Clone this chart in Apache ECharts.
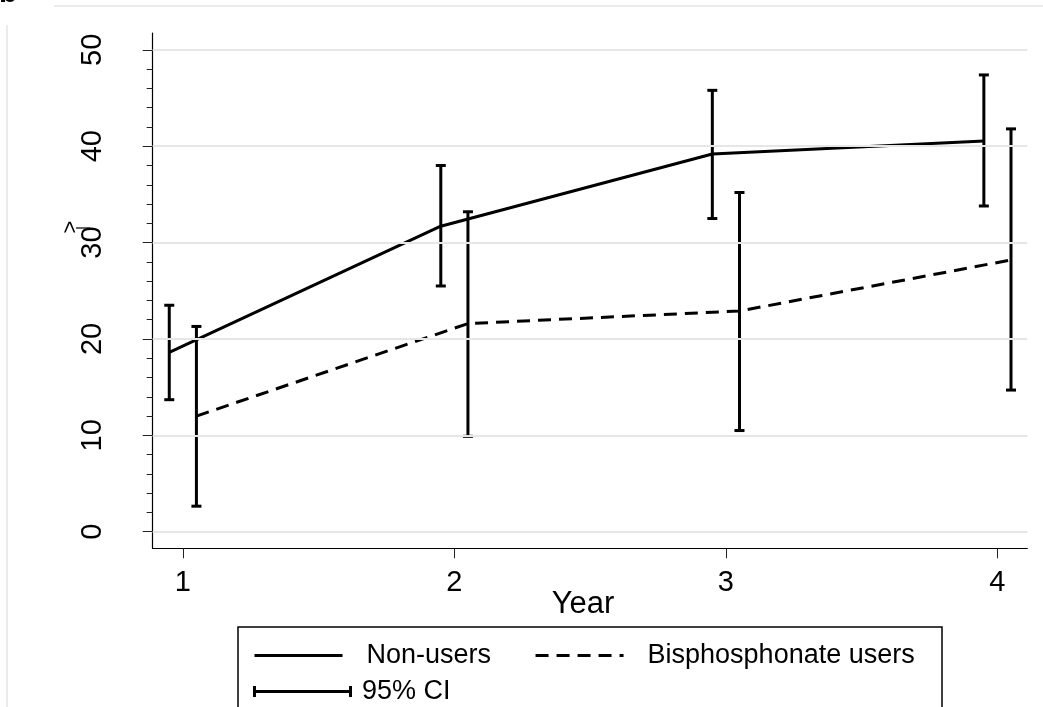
<!DOCTYPE html>
<html>
<head>
<meta charset="utf-8">
<script src="https://cdn.jsdelivr.net/npm/echarts@6/dist/echarts.min.js"></script>
<style>
html,body{margin:0;padding:0;background:#fff;}
#chart{width:1043px;height:707px;}
</style>
</head>
<body>
<div id="chart"></div>
<script>
// ---- data ----
const years = [1, 2, 3, 4];
const nonUsersMean = [18.6, 31.7, 39.2, 40.55];
const nonUsersLow  = [13.7, 25.5, 32.5, 33.8];
const nonUsersHigh = [23.5, 38.0, 45.8, 47.4];
const bisMean = [12.0, 21.6, 22.9, 28.2];
const bisLow  = [2.65, 9.9, 10.5, 14.7];
const bisHigh = [21.3, 33.2, 35.2, 41.8];
const xTickValues = [1, 2, 3, 4];
const yTickValues = [0, 10, 20, 30, 40, 50];
const yMinorTickValues = [0,2,4,6,8,10,12,14,16,18,20,22,24,26,28,30,32,34,36,38,40,42,44,46,48,50];
const seriesNames = ['Non-users', 'Bisphosphonate users'];
const ciName = '95% CI';
const xTitle = 'Year';

// ---- layout ----
const dodge = 0.05;
const FONT = 'Liberation Sans, Arial, Helvetica, sans-serif';

const nonX = years.map(y => y - dodge);
const bisX = years.map(y => y + dodge);
const nonLine = nonX.map((x, i) => [x, nonUsersMean[i]]);
const bisLine = bisX.map((x, i) => [x, bisMean[i]]);
const ciData = nonX.map((x, i) => [x, nonUsersLow[i], nonUsersHigh[i]])
  .concat(bisX.map((x, i) => [x, bisLow[i], bisHigh[i]]));

const chart = echarts.init(document.getElementById('chart'), null, {renderer: 'canvas'});

const option = {
  animation: false,
  backgroundColor: '#ffffff',
  textStyle: {fontFamily: FONT, color: '#000'},
  grid: {left: 152.7, right: 15.7, top: 33, bottom: 158.7, containLabel: false},
  xAxis: {
    type: 'value', min: 0.889, max: 4.11,
    name: xTitle, nameLocation: 'middle', nameGap: 41, nameMoveOverlap: false,
    nameTextStyle: {fontSize: 31, color: '#000', fontFamily: FONT, padding: [0, 14, 0, 0]},
    axisLine: {show: true, onZero: false, lineStyle: {color: '#000', width: 1.2}},
    axisTick: {show: true, length: 10, customValues: xTickValues, lineStyle: {color: '#222', width: 1}},
    axisLabel: {show: true, customValues: xTickValues, margin: 20, fontSize: 29, color: '#000', fontFamily: FONT,
      formatter: v => String(v)},
    splitLine: {show: false}
  },
  yAxis: [{
    type: 'value', min: -1.72, max: 51.75, position: 'left',
    axisLine: {show: true, onZero: false, lineStyle: {color: '#000', width: 1.2}},
    axisTick: {show: true, length: 10, customValues: yTickValues, lineStyle: {color: '#222', width: 1}},
    axisLabel: {show: true, customValues: yTickValues, rotate: 90, margin: 45, fontSize: 29, color: '#000', fontFamily: FONT,
      formatter: v => String(v)},
    splitLine: {show: false}
  }, {
    type: 'value', min: -1.72, max: 51.75, position: 'left', offset: 0,
    axisLine: {show: false},
    axisTick: {show: true, length: 6, customValues: yMinorTickValues, lineStyle: {color: '#222', width: 1}},
    axisLabel: {show: false},
    splitLine: {show: false}
  }],
  legend: [{
    data: seriesNames, orient: 'horizontal', left: 253, top: 642, padding: 0,
    itemWidth: 88, itemHeight: 14, itemGap: 43,
    itemStyle: {opacity: 0},
    lineStyle: {width: 3},
    textStyle: {fontSize: 27, color: '#000', fontFamily: FONT, padding: [0, 0, 0, 19]},
    selectedMode: false
  }, {
    data: [{name: ciName, icon: 'path://M0,4H100V7H0Z M0,0H3V11H0Z M97,0H100V11H97Z'}],
    orient: 'horizontal', left: 253, top: 678, padding: 0,
    itemWidth: 99, itemHeight: 11,
    itemStyle: {color: '#000', opacity: 1},
    textStyle: {fontSize: 27, color: '#000', fontFamily: FONT, padding: [0, 0, 0, 5]},
    selectedMode: false
  }],
  series: [{
    name: '_grid', type: 'line', data: [], z: 1, silent: true,
    markLine: {
      silent: true, symbol: ['none', 'none'], label: {show: false},
      lineStyle: {color: '#e6e6e6', width: 2, type: 'solid'},
      emphasis: {disabled: true},
      data: yTickValues.map(v => ({yAxis: v}))
    }
  }, {
    name: seriesNames[0], type: 'line', data: nonLine, z: 3,
    symbol: 'none', color: '#000',
    lineStyle: {color: '#000', width: 3, type: 'solid'}
  }, {
    name: seriesNames[1], type: 'line', data: bisLine, z: 3,
    symbol: 'none', color: '#000',
    lineStyle: {color: '#000', width: 3, type: [13, 8]}
  }, {
    name: ciName, type: 'custom', data: ciData, z: 4, color: '#000',
    itemStyle: {color: '#000'},
    encode: {x: 0, y: [1, 2]},
    renderItem: function (params, api) {
      const x = api.value(0);
      const lo = api.coord([x, api.value(1)]);
      const hi = api.coord([x, api.value(2)]);
      const hw = 5;
      const st = {stroke: '#000', lineWidth: 3, fill: null};
      return {
        type: 'group',
        children: [
          {type: 'line', shape: {x1: lo[0], y1: lo[1], x2: hi[0], y2: hi[1]}, style: st},
          {type: 'line', shape: {x1: lo[0] - hw, y1: lo[1], x2: lo[0] + hw, y2: lo[1]}, style: st},
          {type: 'line', shape: {x1: hi[0] - hw, y1: hi[1], x2: hi[0] + hw, y2: hi[1]}, style: st}
        ]
      };
    }
  }],
  graphic: [
    {type: 'rect', shape: {x: 238, y: 627, width: 704, height: 110}, style: {fill: null, stroke: '#000', lineWidth: 1.5}, z: 0},
    {type: 'line', shape: {x1: 54, y1: 6, x2: 1043, y2: 6}, style: {stroke: '#ebebeb', lineWidth: 2}},
    {type: 'line', shape: {x1: 7, y1: 25, x2: 7, y2: 707}, style: {stroke: '#ebebeb', lineWidth: 2}},
    {type: 'text', x: -1, y: 9, style: {text: 'b', font: 'bold 30px ' + FONT, fill: '#000', verticalAlign: 'bottom'}},
    {type: 'text', x: 71, y: 227, rotation: Math.PI / 2, style: {text: '>', font: '22px ' + FONT, fill: '#000', align: 'center', verticalAlign: 'middle'}},
    {type: 'line', shape: {x1: 76, y1: 228, x2: 90, y2: 228}, style: {stroke: '#000', lineWidth: 1.2}}
  ]
};
chart.setOption(option);
</script>
</body>
</html>
